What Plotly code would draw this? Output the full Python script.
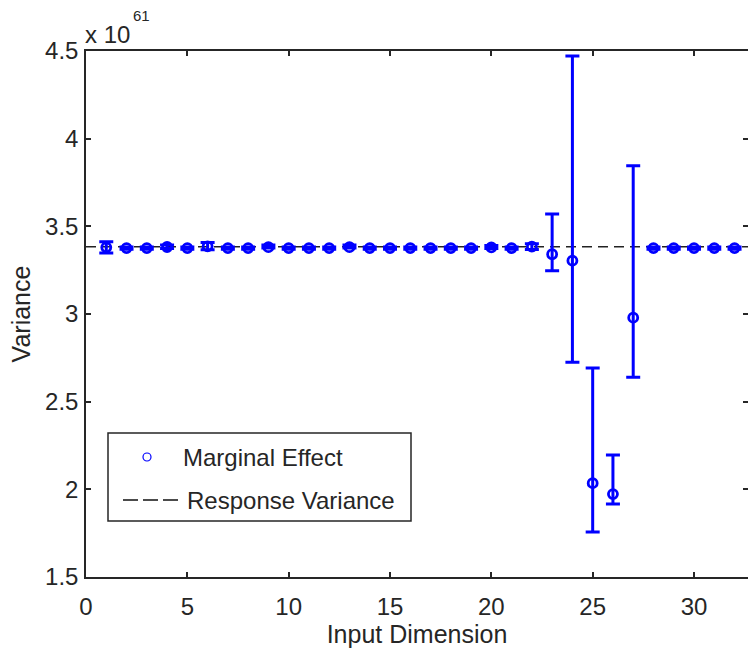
import plotly.graph_objects as go

# ---- data (variance values in units of 1e61) ----
dims = list(range(1, 33))
effect = [3.380, 3.376, 3.376, 3.382, 3.376, 3.386, 3.376, 3.376, 3.381, 3.376,
          3.376, 3.376, 3.381, 3.376, 3.376, 3.376, 3.376, 3.376, 3.376, 3.380,
          3.376, 3.384, 3.341, 3.304, 2.035, 1.973, 2.979, 3.376, 3.376, 3.376,
          3.376, 3.376]
err_plus = [0.032, 0.006, 0.006, 0.012, 0.006, 0.022, 0.006, 0.006, 0.012, 0.006,
            0.006, 0.006, 0.012, 0.006, 0.006, 0.006, 0.006, 0.006, 0.006, 0.010,
            0.006, 0.016, 0.230, 1.168, 0.657, 0.223, 0.867, 0.006, 0.006, 0.006,
            0.006, 0.006]
err_minus = [0.032, 0.006, 0.006, 0.008, 0.006, 0.020, 0.006, 0.006, 0.004, 0.006,
             0.006, 0.006, 0.004, 0.006, 0.006, 0.006, 0.006, 0.006, 0.006, 0.006,
             0.006, 0.016, 0.094, 0.579, 0.278, 0.057, 0.340, 0.006, 0.006, 0.006,
             0.006, 0.006]
response_variance = 3.384
line_x = [0, 33]
line_y = [response_variance, response_variance]
xticks = [0, 5, 10, 15, 20, 25, 30]
yticks = [1.5, 2, 2.5, 3, 3.5, 4, 4.5]
yticklabels = ["1.5", "2", "2.5", "3", "3.5", "4", "4.5"]

FONT = "Liberation Sans, Arial, Helvetica, sans-serif"
AX = "#262626"
BLUE = "#0000ff"

fig = go.Figure()
fig.add_trace(go.Scatter(
    x=line_x, y=line_y, mode="lines",
    line=dict(color="#222222", width=1.5, dash="10px,6px"),
    showlegend=False, hoverinfo="skip"))
fig.add_trace(go.Scatter(
    x=dims, y=effect, mode="markers",
    marker=dict(symbol="circle-open", size=9, color=BLUE, line=dict(width=2.8, color=BLUE)),
    error_y=dict(type="data", symmetric=False, array=err_plus, arrayminus=err_minus,
                 color=BLUE, thickness=3, width=7),
    showlegend=False))
# invisible trace to activate the mirrored right-hand tick axis
fig.add_trace(go.Scatter(x=[None], y=[None], yaxis="y2", showlegend=False, hoverinfo="skip"))

W, H = 748, 652
L, R, T, B = 86, 0, 51, 75
pw, ph = W - L - R, H - T - B

def px(xp):
    return (xp - L) / pw

def py(yp):
    return (H - B - yp) / ph

fig.update_layout(
    width=W, height=H,
    margin=dict(l=L, r=R, t=T, b=B, pad=0),
    paper_bgcolor="white", plot_bgcolor="white",
    font=dict(family=FONT, size=24, color=AX),
    showlegend=False,
    xaxis=dict(range=[0, pw / 20.267], tickvals=xticks, ticks="inside", ticklen=5,
               tickwidth=1.5, tickcolor=AX, showline=True, linecolor=AX, linewidth=1.5,
               mirror="ticks", showgrid=False, zeroline=False,
               tickfont=dict(size=24), ticklabelstandoff=7,
               title=dict(text="Input Dimension", font=dict(size=25), standoff=4)),
    yaxis=dict(range=[1.5, 4.5], tickvals=yticks, ticktext=yticklabels, ticks="inside",
               ticklen=5, tickwidth=1.5, tickcolor=AX, showline=True, linecolor=AX,
               linewidth=1.5, mirror=False, showgrid=False, zeroline=False,
               tickfont=dict(size=24), ticklabelstandoff=1,
               title=dict(text="Variance", font=dict(size=25), standoff=7)),
    yaxis2=dict(range=[1.5, 4.5], overlaying="y", side="right", tickvals=yticks,
                ticks="inside", ticklen=5, tickwidth=1.5, tickcolor=AX,
                showticklabels=False, showline=False, showgrid=False, zeroline=False),
)

# legend drawn as box + sample symbols + text
fig.add_shape(type="rect", xref="paper", yref="paper",
              x0=px(108), x1=px(411), y0=py(521), y1=py(433),
              line=dict(color=AX, width=1.5), fillcolor="white", layer="above")
fig.add_shape(type="circle", xref="paper", yref="paper", xsizemode="pixel", ysizemode="pixel",
              xanchor=px(147), yanchor=py(457), x0=-4, x1=4, y0=-4, y1=4,
              line=dict(color=BLUE, width=1.2), layer="above")
fig.add_shape(type="line", xref="paper", yref="paper",
              x0=px(123), x1=px(178), y0=py(500), y1=py(500),
              line=dict(color="#111111", width=1.5, dash="15px,5px"), layer="above")
fig.add_annotation(text="Marginal Effect", xref="paper", yref="paper",
                   x=px(181), y=py(457), xanchor="left", yanchor="middle",
                   showarrow=False, font=dict(size=24, color=AX))
fig.add_annotation(text="Response Variance", xref="paper", yref="paper",
                   x=px(185), y=py(500), xanchor="left", yanchor="middle",
                   showarrow=False, font=dict(size=24, color=AX))

# exponent label
fig.add_annotation(text="x 10", xref="paper", yref="paper", x=px(83), y=py(35),
                   xanchor="left", yanchor="middle", showarrow=False,
                   font=dict(size=24, color=AX))
fig.add_annotation(text="61", xref="paper", yref="paper", x=px(131), y=py(15),
                   xanchor="left", yanchor="middle", showarrow=False,
                   font=dict(size=15, color=AX))

fig.write_html("out.html")
